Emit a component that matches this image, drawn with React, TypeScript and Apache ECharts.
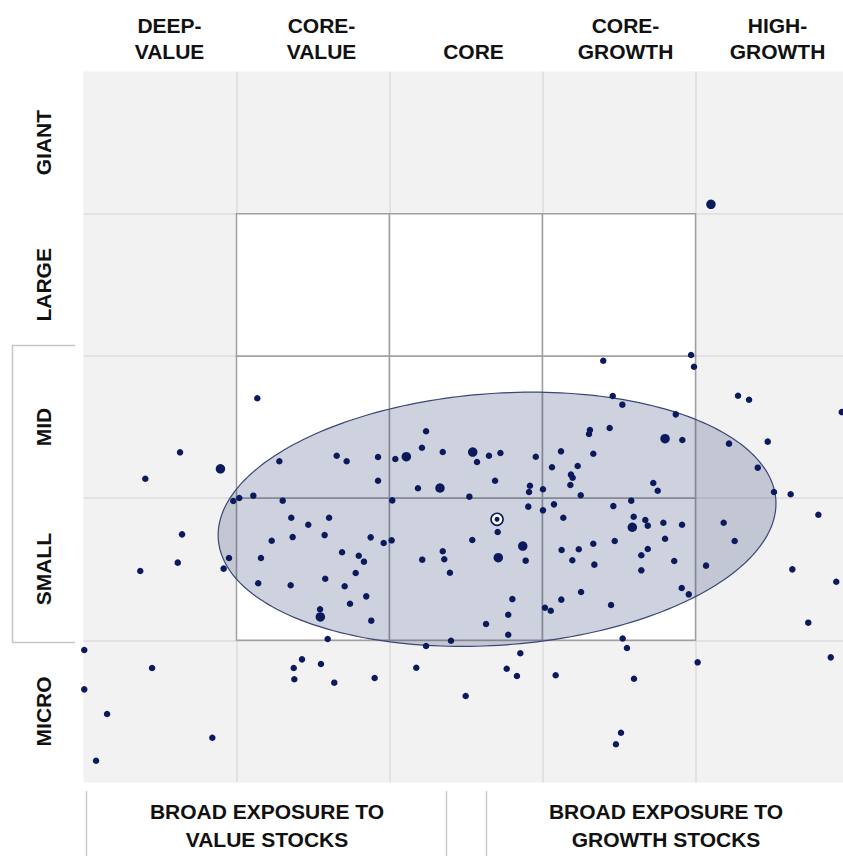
import React, { useEffect, useRef } from "react";
import * as echarts from "echarts";

// ---- labels ----
const styleColumns = ["DEEP-\nVALUE", "CORE-\nVALUE", "CORE", "CORE-\nGROWTH", "HIGH-\nGROWTH"];
const sizeRows = ["MICRO", "SMALL", "MID", "LARGE", "GIANT"];
const exposureLabels = ["BROAD EXPOSURE TO\nVALUE STOCKS", "BROAD EXPOSURE TO\nGROWTH STOCKS"];

// ---- box structure (style score 0-500 horizontally, size score 0-500 vertically) ----
const boxBreaks = [0, 100, 200, 300, 400, 500];
const coreBoxCols = [1, 2, 3];
const coreBoxRows = [1, 2, 3];

// ---- holdings [style, size] ----
const holdings: number[][] = [
  [113.6, 270.2], [128.0, 225.9], [165.5, 229.8], [172.0, 225.9], [192.5, 228.9], [203.8, 227.5],
  [223.9, 247.0], [221.2, 235.4], [234.8, 232.4], [257.2, 225.4], [265.0, 229.8], [272.5, 231.7],
  [192.5, 212.2], [218.6, 206.9], [269.0, 212.2], [252.2, 201.0], [201.8, 198.4], [130.2, 198.2],
  [111.0, 201.7], [101.8, 200.1], [97.9, 198.0], [135.8, 186.2], [146.9, 181.3], [160.5, 186.2],
  [123.0, 170.0], [136.7, 172.6], [157.6, 174.0], [187.7, 172.4], [196.2, 168.4], [201.4, 170.3],
  [116.0, 157.9], [95.1, 157.9], [91.6, 150.4], [169.0, 161.9], [179.9, 159.5], [183.3, 155.3],
  [177.9, 147.3], [114.2, 140.1], [135.4, 138.7], [158.0, 143.3], [170.7, 138.0], [184.8, 130.9],
  [174.2, 125.7], [154.6, 121.8], [188.1, 113.8], [159.6, 100.9], [221.4, 156.7], [234.8, 162.6],
  [235.8, 157.0], [239.5, 147.5], [254.1, 170.5], [270.7, 176.2], [280.3, 129.0], [277.6, 118.0],
  [263.1, 111.5], [277.6, 103.9], [285.5, 90.9], [223.9, 96.0], [240.2, 99.7],
  [339.7, 296.6], [397.1, 300.6], [399.0, 292.4], [345.9, 271.8], [352.2, 265.7], [387.1, 258.9],
  [427.8, 272.0], [435.0, 269.2], [495.6, 260.5], [331.0, 247.9], [330.4, 245.1], [343.9, 249.3],
  [391.4, 240.9], [421.9, 238.3], [447.2, 239.7], [295.6, 229.1], [312.1, 232.9], [333.2, 231.2],
  [306.2, 221.7], [323.0, 222.6], [318.6, 216.5], [319.7, 214.3], [318.2, 209.2], [291.8, 208.7],
  [291.2, 204.3], [300.3, 206.2], [325.0, 202.0], [372.4, 210.6], [375.3, 205.2], [440.7, 221.4],
  [451.3, 204.3], [462.2, 202.7], [290.7, 194.0], [300.3, 191.4], [307.5, 195.6], [313.6, 186.2],
  [346.3, 194.4], [358.0, 198.2], [359.6, 186.9], [367.2, 184.6], [368.8, 180.6], [379.0, 182.7],
  [391.2, 181.3], [418.4, 182.7], [480.3, 188.3], [289.0, 156.0], [312.5, 163.5], [323.7, 164.0],
  [319.5, 156.3], [333.2, 167.9], [347.2, 169.8], [333.9, 153.2], [364.6, 159.8], [368.8, 164.2],
  [380.1, 171.4], [386.1, 155.8], [364.6, 149.2], [406.9, 152.5], [425.6, 169.8], [463.3, 149.9],
  [492.0, 141.2], [301.6, 122.9], [305.4, 120.8], [312.3, 128.6], [325.2, 134.0], [344.8, 124.8],
  [391.0, 136.8], [395.6, 132.3], [352.4, 101.3], [355.2, 94.6], [473.7, 112.4], [488.4, 88.0],
  [63.1, 232.2], [40.4, 213.6], [64.4, 174.5], [61.6, 154.6], [37.1, 148.7], [0.5, 93.2],
  [44.8, 80.5], [0.5, 65.5], [15.4, 48.2], [84.2, 31.5], [8.2, 15.3],
  [142.8, 86.6], [137.4, 80.5], [155.2, 83.3], [137.8, 72.6], [163.9, 70.2], [190.3, 73.5],
  [217.5, 80.7], [276.6, 80.0], [283.3, 74.9], [249.8, 60.8],
  [308.6, 75.4], [359.8, 73.0], [401.4, 84.5], [351.3, 35.0], [348.0, 26.9],
];

const largeHoldings: number[][] = [
  [89.5, 220.6], [211.0, 229.1], [254.4, 232.4], [233.0, 207.1], [154.8, 116.4],
  [271.1, 158.1], [380.1, 241.8], [358.7, 179.5], [287.1, 166.3], [410.1, 406.6],
];

// ---- ownership zone ----
const centroid = [270.3, 185.1];
const zoneMajorEnd = [452.5, 199.1];
const zoneMinorEnd = [264.6, 273.4];

const NAVY = "#0a1a5c";
const FONT = "'Liberation Sans', Arial, Helvetica, sans-serif";

export default function App() {
  const ref = useRef<HTMLDivElement>(null);

  useEffect(() => {
    if (!ref.current) return;
    const chart = echarts.init(ref.current, undefined, { renderer: "svg" });

    const coreCells: number[][] = [];
    coreBoxCols.forEach((c) =>
      coreBoxRows.forEach((r) =>
        coreCells.push([boxBreaks[c], boxBreaks[r], boxBreaks[c + 1], boxBreaks[r + 1]])
      )
    );

    const valueAxisCommon = {
      type: "value",
      min: 0,
      max: 500,
      interval: 100,
      gridIndex: 0,
      axisLine: { show: false },
      axisTick: { show: false },
      axisLabel: { show: false },
      splitLine: {
        show: true,
        showMinLine: false,
        showMaxLine: false,
        lineStyle: { color: "#dcdcdc", width: 1.5 },
      },
    };

    const option: any = {
      animation: false,
      grid: [
        { left: 83.5, top: 71.5, width: 765, height: 711, show: true, backgroundColor: "#f2f2f2", borderWidth: 0 },
        { left: 93.5, top: 71.5, width: 760, height: 711, show: false },
      ],
      xAxis: [
        valueAxisCommon,
        {
          type: "category",
          gridIndex: 1,
          position: "top",
          data: styleColumns,
          axisLine: { show: false },
          axisTick: { show: false },
          splitLine: { show: false },
          axisLabel: {
            interval: 0,
            margin: 7,
            fontSize: 21,
            lineHeight: 26,
            fontWeight: "bold",
            fontFamily: FONT,
            color: "#111",
            verticalAlign: "bottom",
          },
        },
      ],
      yAxis: [
        valueAxisCommon,
        {
          type: "category",
          gridIndex: 0,
          position: "left",
          data: sizeRows,
          axisLine: { show: false },
          axisTick: { show: false },
          splitLine: { show: false },
          axisLabel: {
            interval: 0,
            rotate: 90,
            margin: 29,
            fontSize: 21,
            lineHeight: 22,
            fontWeight: "bold",
            fontFamily: FONT,
            color: "#111",
          },
        },
        { type: "value", gridIndex: 1, show: false, min: 0, max: 1 },
      ],
      series: [
        {
          type: "custom",
          name: "core box",
          xAxisIndex: 0,
          yAxisIndex: 0,
          z: 2,
          silent: true,
          data: coreCells,
          renderItem: (_p: any, api: any) => {
            const tl = api.coord([api.value(0), api.value(3)]);
            const br = api.coord([api.value(2), api.value(1)]);
            return {
              type: "rect",
              shape: { x: tl[0], y: tl[1], width: br[0] - tl[0], height: br[1] - tl[1] },
              style: { fill: "#ffffff", stroke: "#a0a0a0", lineWidth: 1.5 },
            };
          },
        },
        {
          type: "custom",
          name: "ownership zone",
          xAxisIndex: 0,
          yAxisIndex: 0,
          z: 3,
          silent: true,
          data: [[...centroid, ...zoneMajorEnd, ...zoneMinorEnd]],
          renderItem: (_p: any, api: any) => {
            const c = api.coord([api.value(0), api.value(1)]);
            const m = api.coord([api.value(2), api.value(3)]);
            const n = api.coord([api.value(4), api.value(5)]);
            const rx = Math.hypot(m[0] - c[0], m[1] - c[1]);
            const ry = Math.hypot(n[0] - c[0], n[1] - c[1]);
            const rot = Math.atan2(c[1] - m[1], m[0] - c[0]);
            const pts: number[][] = [];
            const N = 240;
            for (let i = 0; i < N; i++) {
              const t = (i / N) * Math.PI * 2;
              const ex = rx * Math.cos(t);
              const ey = ry * Math.sin(t);
              pts.push([
                c[0] + ex * Math.cos(rot) + ey * Math.sin(rot),
                c[1] - ex * Math.sin(rot) + ey * Math.cos(rot),
              ]);
            }
            return {
              type: "polygon",
              shape: { points: pts },
              style: { fill: "rgba(10,26,92,0.2)", stroke: "#3a4676", lineWidth: 1.2 },
            };
          },
        },
        {
          type: "scatter",
          name: "holdings",
          xAxisIndex: 0,
          yAxisIndex: 0,
          z: 4,
          silent: true,
          symbol: "circle",
          symbolSize: 6.5,
          itemStyle: { color: NAVY, opacity: 1 },
          data: holdings,
        },
        {
          type: "scatter",
          name: "large holdings",
          xAxisIndex: 0,
          yAxisIndex: 0,
          z: 4,
          silent: true,
          symbol: "circle",
          symbolSize: 9.5,
          itemStyle: { color: NAVY, opacity: 1 },
          data: largeHoldings,
        },
        {
          type: "scatter",
          name: "centroid ring",
          xAxisIndex: 0,
          yAxisIndex: 0,
          z: 5,
          silent: true,
          symbol: "circle",
          symbolSize: 12,
          itemStyle: { color: "#ffffff", borderColor: NAVY, borderWidth: 1.6, opacity: 1 },
          data: [centroid],
        },
        {
          type: "scatter",
          name: "centroid",
          xAxisIndex: 0,
          yAxisIndex: 0,
          z: 6,
          silent: true,
          symbol: "circle",
          symbolSize: 5,
          itemStyle: { color: NAVY, opacity: 1 },
          data: [centroid],
        },
      ],
      graphic: [
        {
          type: "polyline",
          silent: true,
          shape: { points: [[75, 345.5], [12.5, 345.5], [12.5, 642.5], [75, 642.5]] },
          style: { stroke: "#c3c7cd", lineWidth: 1.5, fill: "none" },
        },
        { type: "line", silent: true, shape: { x1: 86.5, y1: 791, x2: 86.5, y2: 856 }, style: { stroke: "#c8ccd2", lineWidth: 1.5 } },
        { type: "line", silent: true, shape: { x1: 446.5, y1: 791, x2: 446.5, y2: 856 }, style: { stroke: "#c8ccd2", lineWidth: 1.5 } },
        { type: "line", silent: true, shape: { x1: 486.5, y1: 791, x2: 486.5, y2: 856 }, style: { stroke: "#c8ccd2", lineWidth: 1.5 } },
        {
          type: "text",
          silent: true,
          x: 267,
          y: 825,
          style: {
            text: exposureLabels[0],
            fontSize: 21,
            lineHeight: 28,
            fontWeight: "bold",
            fontFamily: FONT,
            fill: "#111",
            align: "center",
            verticalAlign: "middle",
          },
        },
        {
          type: "text",
          silent: true,
          x: 666,
          y: 825,
          style: {
            text: exposureLabels[1],
            fontSize: 21,
            lineHeight: 28,
            fontWeight: "bold",
            fontFamily: FONT,
            fill: "#111",
            align: "center",
            verticalAlign: "middle",
          },
        },
      ],
    };

    chart.setOption(option);
    return () => chart.dispose();
  }, []);

  return (
    <div style={{ position: "absolute", left: 0, top: 0, width: 843, height: 856, overflow: "hidden", background: "#fff" }}>
      <div ref={ref} style={{ width: 870, height: 856 }} />
    </div>
  );
}
